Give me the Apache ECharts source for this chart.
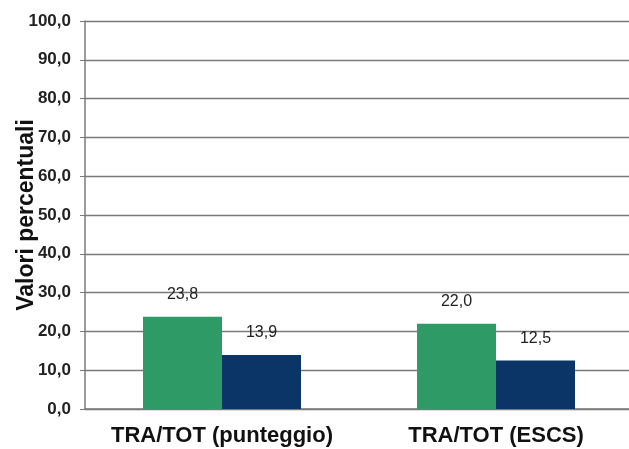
<!DOCTYPE html>
<html>
<head>
<meta charset="utf-8">
<script src="https://cdn.jsdelivr.net/npm/echarts@6/dist/echarts.min.js"></script>
<style>
html,body{margin:0;padding:0;background:#fff;overflow:hidden;}
#chart{width:629px;height:449px;}
</style>
</head>
<body>
<div id="chart"></div>
<script>
// Categories and the two percentage series
var categories = ['TRA/TOT (punteggio)', 'TRA/TOT (ESCS)'];
var seriesA = [23.8, 22.0];
var seriesB = [13.9, 12.5];
var yTicks = [0, 10, 20, 30, 40, 50, 60, 70, 80, 90, 100];

function fmt(v) { return v.toFixed(1).replace('.', ','); }

var FONT = 'Liberation Sans, Arial, sans-serif';
var LINE = '#7a7a7a';

function valueLabel() {
  return {
    show: true, position: 'top', distance: 14, color: '#222', fontSize: 16,
    fontFamily: FONT, formatter: function (p) { return fmt(p.value); }
  };
}

var chart = echarts.init(document.getElementById('chart'));
chart.setOption({
  animation: false,
  backgroundColor: '#ffffff',
  grid: { left: 85, right: -4, top: 21, bottom: 40, containLabel: false, outerBoundsMode: 'none' },
  xAxis: {
    type: 'category',
    data: categories,
    axisLine: { lineStyle: { color: LINE, width: 1.5 } },
    axisTick: { show: false },
    axisLabel: {
      interval: 0,
      color: '#111', fontFamily: FONT, fontWeight: 'bold',
      fontSize: 22, margin: 16
    },
    splitLine: { show: false }
  },
  yAxis: {
    type: 'value',
    min: yTicks[0], max: yTicks[yTicks.length - 1], interval: 10,
    name: 'Valori percentuali',
    nameLocation: 'middle',
    nameGap: 47,
    nameMoveOverlap: false,
    nameRotate: 90,
    nameTextStyle: { color: '#111', fontFamily: FONT, fontWeight: 'bold', fontSize: 23 },
    axisLine: { show: true, lineStyle: { color: LINE, width: 1.5 } },
    axisTick: { show: true, length: 5, lineStyle: { color: LINE } },
    axisLabel: {
      color: '#222', fontFamily: FONT, fontWeight: 'bold', fontSize: 17, margin: 14,
      formatter: function (v) { return fmt(v); }
    },
    splitLine: { show: true, lineStyle: { color: LINE, width: 1.3 } }
  },
  series: [
    {
      type: 'bar', data: seriesA, barWidth: 79, barGap: '0%',
      itemStyle: { color: '#2e9b67' },
      label: valueLabel()
    },
    {
      type: 'bar', data: seriesB, barWidth: 79, barGap: '0%',
      itemStyle: { color: '#0b3566' },
      label: valueLabel()
    }
  ]
});
</script>
</body>
</html>
